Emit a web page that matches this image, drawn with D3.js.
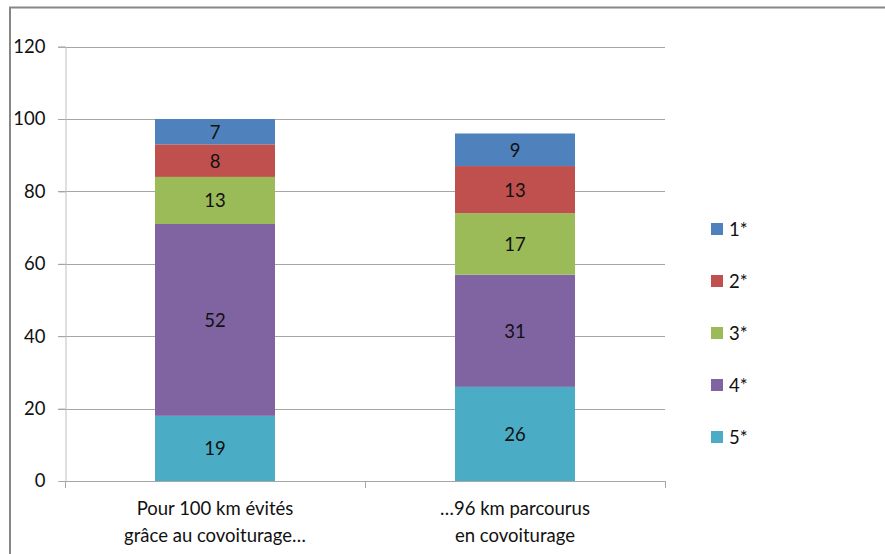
<!DOCTYPE html>
<html>
<head>
<meta charset="utf-8">
<script src="https://cdn.jsdelivr.net/npm/d3@7"></script>
<style>
  html, body { margin: 0; padding: 0; background: #fff; }
  svg { display: block; font-family: Lato, "Open Sans", sans-serif; }
</style>
</head>
<body>
<svg id="chart" width="885" height="554"></svg>
<script>
// ---- data ----
const categories = ["Pour 100 km évités|grâce au covoiturage…", "…96 km parcourus|en covoiturage"];
const seriesNames = ["5*", "4*", "3*", "2*", "1*"];           // bottom to top
const seriesColors = ["#4BACC6", "#8064A2", "#9BBB59", "#C0504D", "#4F81BD"];
const heightsBar1 = [18, 53, 13, 9, 7];                        // segment heights as drawn
const heightsBar2 = [26, 31, 17, 13, 9];
const labelsBar1 = [19, 52, 13, 8, 7];                         // printed data labels
const labelsBar2 = [26, 31, 17, 13, 9];
const yTicks = [0, 20, 40, 60, 80, 100, 120];
const legendOrder = ["1*", "2*", "3*", "4*", "5*"];

const heights = [heightsBar1, heightsBar2];
const labels = [labelsBar1, labelsBar2];

const FS = 18.5;
const svg = d3.select("#chart");
const plot = { left: 65, right: 665, top: 46.6, bottom: 481 };

// outer frame
svg.append("rect")
  .attr("x", 10).attr("y", 7.5).attr("width", 1000).attr("height", 1000)
  .attr("fill", "none").attr("stroke", "#878787").attr("stroke-width", 2);

const x = d3.scaleBand().domain(categories).range([plot.left, plot.right])
  .paddingInner(0.6).paddingOuter(0.3);
const xEdge = d3.scaleBand().domain(categories).range([plot.left, plot.right]).padding(0);
const y = d3.scaleLinear().domain([0, 120]).range([plot.bottom, plot.top]);

// gridlines
svg.append("g").selectAll("line").data(yTicks.filter(t => t > 0)).join("line")
  .attr("x1", plot.left - 7).attr("x2", plot.right)
  .attr("y1", d => Math.round(y(d)) + 0.5).attr("y2", d => Math.round(y(d)) + 0.5)
  .attr("stroke", "#a6a6a6").attr("stroke-width", 1);

// y axis
const yAxis = svg.append("g").attr("transform", `translate(${plot.left + 0.5},0)`)
  .call(d3.axisLeft(y).tickValues(yTicks).tickSize(7).tickPadding(13));
yAxis.select(".domain").attr("stroke", "#bfbfbf");
yAxis.selectAll(".tick line").attr("stroke", "#a6a6a6");
yAxis.selectAll(".tick text").attr("font-size", FS).attr("fill", "#111")
  .attr("font-family", "Lato, 'Open Sans', sans-serif");

// stacked bars
const stacks = categories.map((c, i) => {
  let acc = 0;
  return heights[i].map((h, j) => {
    const d = { cat: c, y0: acc, y1: acc + h, color: seriesColors[j], label: labels[i][j] };
    acc += h;
    return d;
  });
}).flat();

const bars = svg.append("g");
bars.selectAll("rect").data(stacks).join("rect")
  .attr("x", d => x(d.cat)).attr("width", x.bandwidth())
  .attr("y", d => y(d.y1)).attr("height", d => y(d.y0) - y(d.y1))
  .attr("fill", d => d.color);

bars.selectAll("text").data(stacks).join("text")
  .attr("x", d => x(d.cat) + x.bandwidth() / 2)
  .attr("y", d => (y(d.y0) + y(d.y1)) / 2)
  .attr("text-anchor", "middle").attr("dominant-baseline", "central")
  .attr("font-size", FS).attr("fill", "#111")
  .text(d => d.label);

// x axis baseline
svg.append("line")
  .attr("x1", plot.left).attr("x2", plot.right)
  .attr("y1", Math.round(plot.bottom) + 0.5).attr("y2", Math.round(plot.bottom) + 0.5)
  .attr("stroke", "#a6a6a6");
// category separator ticks
const edges = [xEdge(categories[0]), xEdge(categories[1]), plot.right];
svg.append("g").selectAll("line").data(edges).join("line")
  .attr("x1", d => Math.round(d) + 0.5).attr("x2", d => Math.round(d) + 0.5)
  .attr("y1", plot.bottom).attr("y2", plot.bottom + 7)
  .attr("stroke", "#a6a6a6");

// category labels
const catG = svg.append("g");
categories.forEach(c => {
  const lines = c.split("|");
  const t = catG.append("text")
    .attr("x", x(c) + x.bandwidth() / 2).attr("y", 515)
    .attr("text-anchor", "middle").attr("font-size", FS).attr("fill", "#111");
  lines.forEach((l, k) => {
    t.append("tspan").attr("x", x(c) + x.bandwidth() / 2).attr("dy", k === 0 ? 0 : 27).text(l);
  });
});

// legend
const colorOf = d3.scaleOrdinal().domain(seriesNames).range(seriesColors);
const lg = svg.append("g");
legendOrder.forEach((name, i) => {
  const cy = 229 + i * 52;
  lg.append("rect").attr("x", 711).attr("y", cy - 6).attr("width", 12).attr("height", 12)
    .attr("fill", colorOf(name));
  lg.append("text").attr("x", 729).attr("y", cy).attr("dominant-baseline", "central")
    .attr("font-size", FS).attr("fill", "#111").text(name);
});
</script>
</body>
</html>
